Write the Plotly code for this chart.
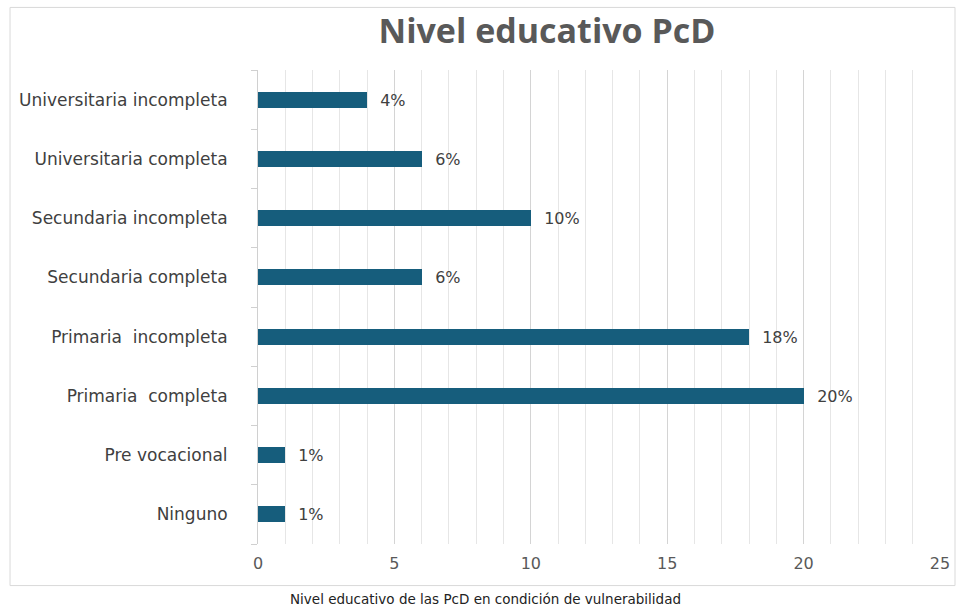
import plotly.graph_objects as go

# datos
niveles = [
    "Ninguno",
    "Pre vocacional",
    "Primaria  completa",
    "Primaria  incompleta",
    "Secundaria completa",
    "Secundaria incompleta",
    "Universitaria completa",
    "Universitaria incompleta",
]
valores = [1, 1, 20, 18, 6, 10, 6, 4]
etiquetas = ["1%", "1%", "20%", "18%", "6%", "10%", "6%", "4%"]

bar_color = "#165d7c"
font_txt = "DejaVu Sans, Verdana, sans-serif"

fig = go.Figure()
fig.add_trace(
    go.Bar(
        y=niveles,
        x=valores,
        orientation="h",
        marker=dict(color=bar_color, line=dict(width=0)),
        width=0.27,
        text=etiquetas,
        texttemplate="  %{text}",
        textposition="outside",
        constraintext="none",
        textfont=dict(size=16, color="#404040", family=font_txt),
        cliponaxis=False,
        hoverinfo="skip",
    )
)

fig.update_layout(
    width=961,
    height=610,
    paper_bgcolor="white",
    plot_bgcolor="white",
    margin=dict(l=258, r=21, t=70, b=66),
    showlegend=False,
    bargap=0,
    title=dict(
        text="<b>Nivel educativo PcD</b>",
        x=547 / 961,
        xanchor="center",
        y=1 - 31 / 610,
        yanchor="middle",
        font=dict(size=34, color="#595959", family="Open Sans, sans-serif"),
    ),
    font=dict(family=font_txt),
)

fig.update_xaxes(
    range=[0, 25],
    dtick=5,
    tick0=0,
    showgrid=True,
    gridcolor="#d4d4d4",
    gridwidth=1,
    minor=dict(dtick=1, showgrid=True, gridcolor="#e6e6e6", gridwidth=1),
    zeroline=False,
    showline=False,
    ticks="",
    ticklabelstandoff=8,
    tickfont=dict(size=16, color="#595959"),
    fixedrange=True,
)

fig.update_yaxes(
    categoryorder="array",
    categoryarray=niveles,
    showgrid=False,
    showline=True,
    linecolor="#d0d0d0",
    linewidth=1,
    ticks="outside",
    tickson="boundaries",
    ticklen=6,
    tickcolor="#d0d0d0",
    ticklabelstandoff=26,
    tickfont=dict(size=17, color="#404040"),
    fixedrange=True,
)

# marco del grafico (estilo Excel)
fig.add_shape(
    type="rect",
    xref="paper",
    yref="paper",
    x0=-0.3636,
    x1=1.022,
    y0=-0.0877,
    y1=1.132,
    line=dict(color="#d9d9d9", width=1),
    fillcolor="rgba(0,0,0,0)",
    layer="below",
)

fig.add_annotation(
    text="Nivel educativo de las PcD en condición de vulnerabilidad",
    xref="paper",
    yref="paper",
    x=(485 - 258) / 682,
    y=(543.5 - 598) / 473,
    xanchor="center",
    yanchor="middle",
    showarrow=False,
    font=dict(size=13.5, color="#222222", family=font_txt),
)

fig.write_html(
    "out.html",
    config={"displayModeBar": False},
    post_script="document.body.style.margin='0';",
)
